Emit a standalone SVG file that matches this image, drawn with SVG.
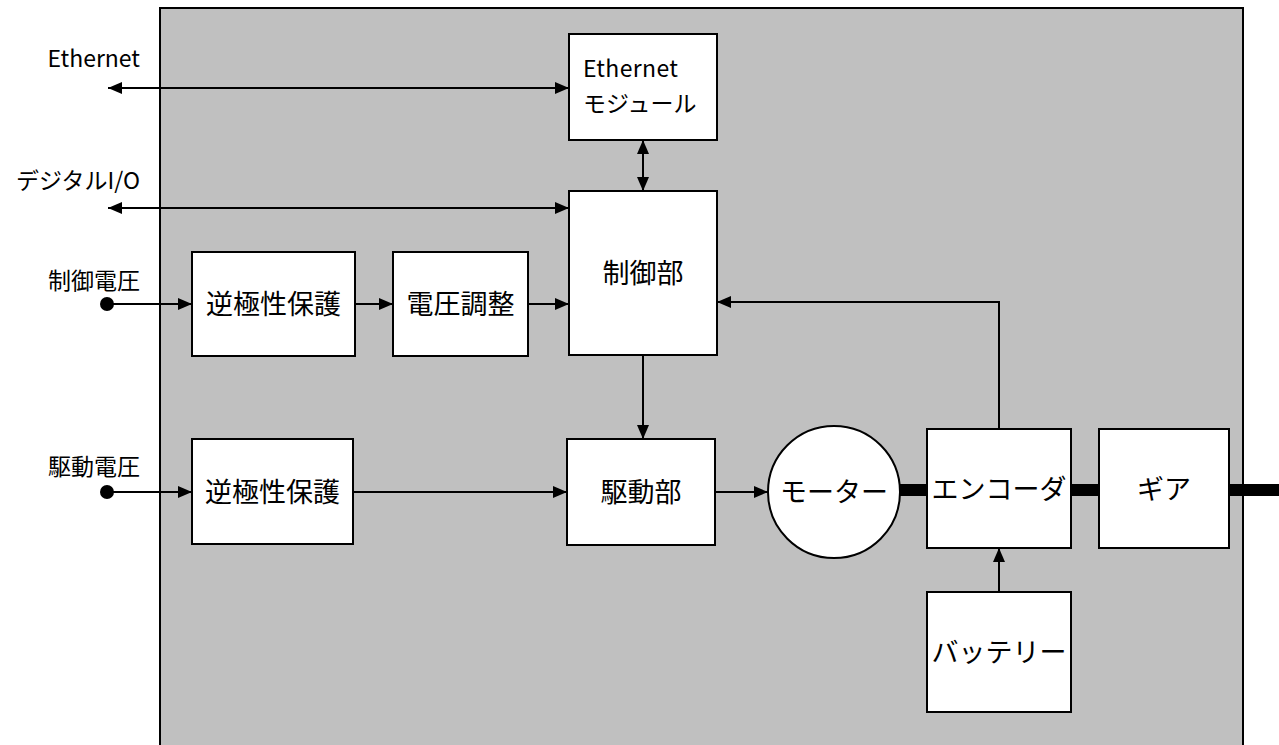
<svg xmlns="http://www.w3.org/2000/svg" width="1279" height="745" viewBox="0 0 1279 745">
<defs>
<style>
.box{fill:#fff;stroke:#000;stroke-width:2}
.ln{fill:none;stroke:#000;stroke-width:2}
.shaft{fill:#000}
.t{font-family:"Noto Sans CJK JP","Liberation Sans",sans-serif;fill:#000}
.lbl{font-size:23px}
.bt{font-size:27px;text-anchor:middle}
</style>
<marker id="ah" markerWidth="14" markerHeight="12" refX="14" refY="6" orient="auto-start-reverse" markerUnits="userSpaceOnUse">
<path d="M0,0 L14,6 L0,12 Z" fill="#000"/>
</marker>
</defs>
<rect width="1279" height="745" fill="#fff"/>
<g id="housing">
<rect x="160" y="8" width="1083" height="745" fill="#c0c0c0" stroke="#000" stroke-width="2"/>
</g>
<g id="shafts">
<rect class="shaft" x="899" y="484" width="29" height="12"/>
<rect class="shaft" x="1070" y="484" width="30" height="12"/>
<rect class="shaft" x="1228" y="484" width="51" height="12"/>
</g>
<g id="connectors">
<line class="ln" x1="108" y1="88" x2="569" y2="88" marker-start="url(#ah)" marker-end="url(#ah)"/>
<line class="ln" x1="108" y1="208" x2="569" y2="208" marker-start="url(#ah)" marker-end="url(#ah)"/>
<line class="ln" x1="643" y1="140" x2="643" y2="191" marker-start="url(#ah)" marker-end="url(#ah)"/>
<circle cx="107" cy="304" r="7" fill="#000"/>
<line class="ln" x1="107" y1="304" x2="192" y2="304" marker-end="url(#ah)"/>
<line class="ln" x1="355" y1="304" x2="393" y2="304" marker-end="url(#ah)"/>
<line class="ln" x1="528" y1="304" x2="569" y2="304" marker-end="url(#ah)"/>
<line class="ln" x1="643" y1="355" x2="643" y2="439" marker-end="url(#ah)"/>
<circle cx="107" cy="492" r="7" fill="#000"/>
<line class="ln" x1="107" y1="492" x2="192" y2="492" marker-end="url(#ah)"/>
<line class="ln" x1="353" y1="492" x2="567" y2="492" marker-end="url(#ah)"/>
<line class="ln" x1="715" y1="492" x2="768" y2="492" marker-end="url(#ah)"/>
<polyline class="ln" points="999,429 999,302 717,302" marker-end="url(#ah)"/>
<line class="ln" x1="999" y1="592" x2="999" y2="548" marker-end="url(#ah)"/>
</g>
<g id="labels">
<text class="t lbl" x="140" y="67" text-anchor="end" font-size="24">Ethernet</text>
<text class="t lbl" x="140" y="189" text-anchor="end">デジタルI/O</text>
<text class="t lbl" x="140" y="289" text-anchor="end">制御電圧</text>
<text class="t lbl" x="140" y="475" text-anchor="end">駆動電圧</text>
</g>
<g id="ethernet-module">
<rect class="box" x="569" y="34" width="148" height="106"/>
<text class="t" x="583" y="77" font-size="23" textLength="95">Ethernet</text>
<text class="t" x="583" y="112" font-size="23">モジュール</text>
</g>
<g id="control">
<rect class="box" x="569" y="191" width="148" height="164"/>
<text class="t bt" x="643" y="283">制御部</text>
</g>
<g id="reverse-protect-1">
<rect class="box" x="192" y="252" width="163" height="104"/>
<text class="t bt" x="273.5" y="314">逆極性保護</text>
</g>
<g id="voltage-reg">
<rect class="box" x="393" y="252" width="135" height="104"/>
<text class="t bt" x="460.5" y="314">電圧調整</text>
</g>
<g id="reverse-protect-2">
<rect class="box" x="192" y="439" width="161" height="105"/>
<text class="t bt" x="272.5" y="502">逆極性保護</text>
</g>
<g id="driver">
<rect class="box" x="567" y="439" width="148" height="106"/>
<text class="t bt" x="641" y="502">駆動部</text>
</g>
<g id="motor">
<circle class="box" cx="834" cy="492" r="66"/>
<text class="t bt" x="834" y="502">モーター</text>
</g>
<g id="encoder">
<rect class="box" x="927" y="429" width="144" height="119"/>
<text class="t bt" x="999" y="499">エンコーダ</text>
</g>
<g id="gear">
<rect class="box" x="1099" y="429" width="130" height="119"/>
<text class="t bt" x="1164" y="499">ギア</text>
</g>
<g id="battery">
<rect class="box" x="927" y="592" width="144" height="120"/>
<text class="t bt" x="999" y="662">バッテリー</text>
</g>
</svg>
